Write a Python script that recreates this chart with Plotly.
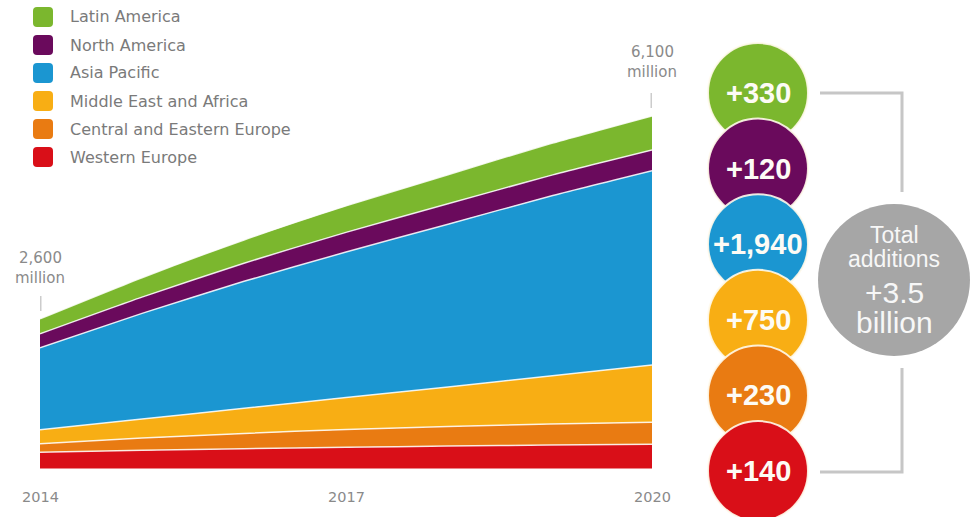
import plotly.graph_objects as go

# Mobile subscriptions by region, millions
years = [2014, 2015, 2016, 2017, 2018, 2019, 2020]
regions = ["Western Europe", "Central and Eastern Europe", "Middle East and Africa",
           "Asia Pacific", "North America", "Latin America"]
western_europe = [280, 314, 342, 367, 388, 406, 420]
central_eastern_europe = [150, 212, 265, 309, 339, 362, 380]
middle_east_africa = [240, 330, 435, 551, 683, 833, 990]
asia_pacific = [1420, 1827, 2196, 2518, 2817, 3108, 3360]
north_america = [240, 282, 314, 340, 352, 358, 360]
latin_america = [260, 336, 402, 458, 504, 550, 590]
series = [western_europe, central_eastern_europe, middle_east_africa,
          asia_pacific, north_america, latin_america]
colors = ["#d90f18", "#e97b12", "#f8ae14", "#1b96d1", "#6a0a5c", "#7bb72e"]
year_ticks = [2014, 2017, 2020]

W, H = 977, 517
ZERO_Y = 468.5          # pixel row of the baseline
M_PER_PX = 17.3         # millions per pixel


def px(x):
    return x / W


def py(y):
    return 1 - y / H


GRAY_TXT = "#8a8a8a"
LEG_FONT = "DejaVu Sans"
NUM_FONT = "Liberation Sans, Arial, sans-serif"


def label(x, y, text, size, color, family, xref="paper", xanchor="center"):
    return dict(x=x, y=y, xref=xref, yref="paper", text=text, showarrow=False,
                xanchor=xanchor, yanchor="middle",
                font=dict(family=family, size=size, color=color))


fig = go.Figure()
for name, vals, col in zip(regions, series, colors):
    fig.add_trace(go.Scatter(
        x=years, y=vals, name=name, stackgroup="regions", mode="lines",
        line=dict(color="rgba(255,255,255,0.85)", width=1.5, shape="spline", smoothing=0.6),
        fillcolor=col, showlegend=False,
    ))

shapes = []
annotations = []

# year labels under the area
for yr in year_ticks:
    annotations.append(label(yr, py(497), str(yr), 14.5, GRAY_TXT, LEG_FONT, xref="x"))

# start / end totals
totals = [sum(s[i] for s in series) for i in range(len(years))]
for yr, tot, ty, tick in [(years[0], totals[0], 258, (296, 311)),
                          (years[-1], totals[-1], 52, (93, 108))]:
    annotations.append(label(yr, py(ty), f"{int(round(tot, -2)):,}", 15, GRAY_TXT, LEG_FONT, xref="x"))
    annotations.append(label(yr, py(ty + 20), "million", 15, GRAY_TXT, LEG_FONT, xref="x"))
    shapes.append(dict(type="line", xref="x", yref="paper", x0=yr, x1=yr,
                       y0=py(tick[0]), y1=py(tick[1]), line=dict(color="#cccccc", width=3)))


# legend (top to bottom: Latin America ... Western Europe)
def rounded_square(cx, cy, s=20, r=4):
    x0, x1, y0, y1 = cx - s / 2, cx + s / 2, cy - s / 2, cy + s / 2
    pts = [
        f"M {px(x0 + r)},{py(y0)}", f"L {px(x1 - r)},{py(y0)}", f"Q {px(x1)},{py(y0)} {px(x1)},{py(y0 + r)}",
        f"L {px(x1)},{py(y1 - r)}", f"Q {px(x1)},{py(y1)} {px(x1 - r)},{py(y1)}",
        f"L {px(x0 + r)},{py(y1)}", f"Q {px(x0)},{py(y1)} {px(x0)},{py(y1 - r)}",
        f"L {px(x0)},{py(y0 + r)}", f"Q {px(x0)},{py(y0)} {px(x0 + r)},{py(y0)}", "Z",
    ]
    return " ".join(pts)


for i, (name, col) in enumerate(zip(regions[::-1], colors[::-1])):
    cy = 17 + 28 * i
    shapes.append(dict(type="path", xref="paper", yref="paper", path=rounded_square(43, cy),
                       fillcolor=col, line=dict(width=0)))
    annotations.append(label(px(68), py(cy), name, 16, "#7a7a7a", LEG_FONT, xanchor="left"))

# bracket joining the addition bubbles to the total
bracket = "#c6c6c6"
shapes.append(dict(type="path", xref="paper", yref="paper",
                   path=f"M {px(820)},{py(93)} L {px(902)},{py(93)} L {px(902)},{py(192)}",
                   line=dict(color=bracket, width=3)))
shapes.append(dict(type="path", xref="paper", yref="paper",
                   path=f"M {px(902)},{py(368)} L {px(902)},{py(472)} L {px(820)},{py(472)}",
                   line=dict(color=bracket, width=3)))

# addition bubbles, top (Latin America) to bottom (Western Europe)
additions = [s[-1] - s[0] for s in series]
cx, r = 758, 50
for i, (add, col) in enumerate(zip(additions[::-1], colors[::-1])):
    cy = 93 + 75.6 * i
    shapes.append(dict(type="circle", xref="paper", yref="paper",
                       x0=px(cx - r), x1=px(cx + r), y0=py(cy + r), y1=py(cy - r),
                       fillcolor=col, line=dict(color="rgba(255,250,235,0.9)", width=2)))
    annotations.append(label(px(cx), py(cy), f"<b>+{add:,}</b>", 29, "#fdfbf5", NUM_FONT))

# total additions bubble
total_add = sum(additions)
shapes.append(dict(type="circle", xref="paper", yref="paper",
                   x0=px(818), x1=px(970), y0=py(356), y1=py(204),
                   fillcolor="#a6a6a6", line=dict(width=0)))
for txt, ty, size in [("Total", 235, 23), ("additions", 259, 23),
                      (f"+{total_add / 1000:.1f}", 292, 30), ("billion", 322, 30)]:
    annotations.append(label(px(894), py(ty), txt, size, "#f7f7f7", NUM_FONT))

fig.update_layout(
    width=W, height=H, margin=dict(l=0, r=0, t=0, b=0),
    paper_bgcolor="white", plot_bgcolor="white",
    xaxis=dict(domain=[px(40), px(652)], range=[2014, 2020], visible=False, fixedrange=True),
    yaxis=dict(domain=[0, 1], range=[-(H - ZERO_Y) * M_PER_PX, ZERO_Y * M_PER_PX],
               visible=False, fixedrange=True),
    shapes=shapes, annotations=annotations, showlegend=False,
)

fig.write_html("out.html", config={"displayModeBar": False})
